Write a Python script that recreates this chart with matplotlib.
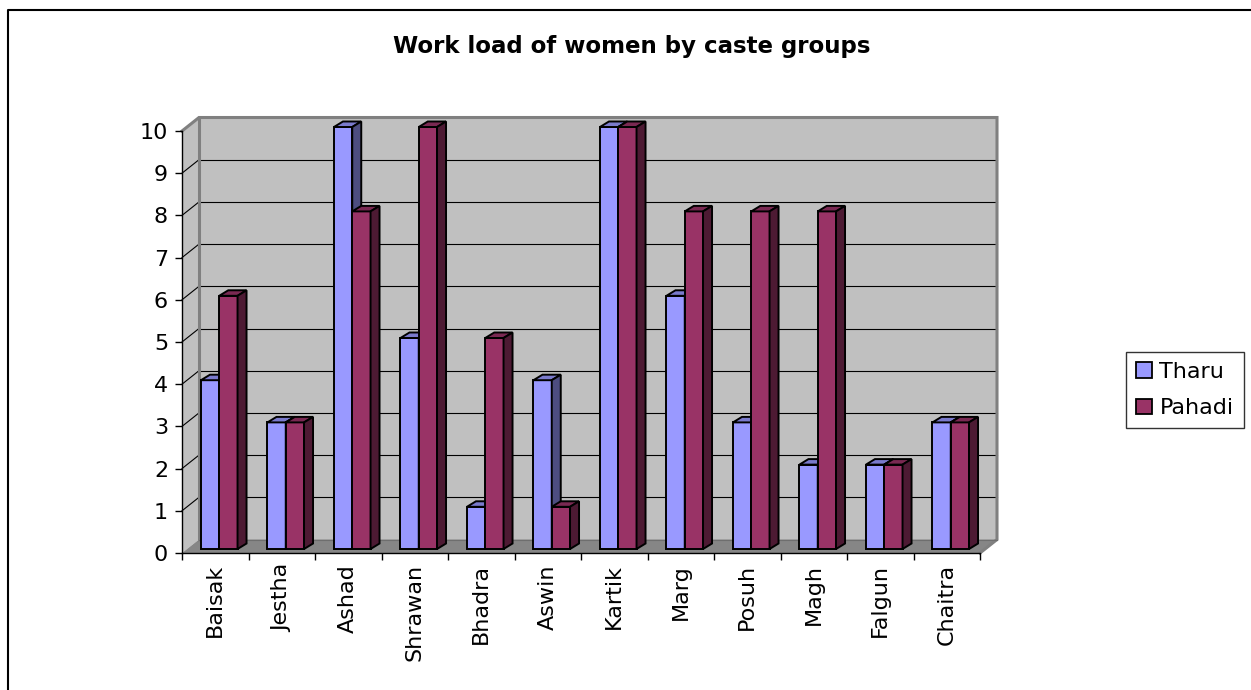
import matplotlib
matplotlib.use("Agg")
import matplotlib.pyplot as plt
from matplotlib.patches import Polygon, Patch
from matplotlib.lines import Line2D

# ---- data ----
months = ["Baisak", "Jestha", "Ashad", "Shrawan", "Bhadra", "Aswin",
          "Kartik", "Marg", "Posuh", "Magh", "Falgun", "Chaitra"]
tharu = [4, 3, 10, 5, 1, 4, 10, 6, 3, 2, 2, 3]
pahadi = [6, 3, 8, 10, 5, 1, 10, 8, 8, 8, 2, 3]
series_names = ["Tharu", "Pahadi"]
y_ticks = list(range(0, 11))
title = "Work load of women by caste groups"

# ---- styles ----
W, H = 1251, 690
front_col = {"Tharu": "#9999FF", "Pahadi": "#993366"}
side_col = {"Tharu": "#4D4D80", "Pahadi": "#4D1A33"}
top_col = {"Tharu": "#7A7ACC", "Pahadi": "#7A2952"}
wall_col = "#C0C0C0"
floor_col = "#868686"
edge_gray = "#808080"

plt.rcParams["font.family"] = ["DejaVu Sans"]

fig = plt.figure(figsize=(W / 100, H / 100), dpi=100)
# front plot area in pixels
px_left, px_right, px_bottom, px_top = 182, 980, 553, 131
ax = fig.add_axes([px_left / W, (H - px_bottom) / H,
                   (px_right - px_left) / W, (px_bottom - px_top) / H])
n = len(months)
ymax = y_ticks[-1]
ax.set_xlim(0, n)
ax.set_ylim(0, ymax)
ax.patch.set_visible(False)

sx = (px_right - px_left) / n      # px per category
sy = (px_bottom - px_top) / ymax   # px per unit

# depth offsets (pixels -> data units)
wdx, wdy = 17 / sx, 13.5 / sy
bfx, bfy = 4 / sx, 4 / sy
bbx, bby = 13 / sx, 9.5 / sy


def poly(pts, fc, ec="none", lw=0, z=1):
    ax.add_patch(Polygon(pts, closed=True, facecolor=fc, edgecolor=ec,
                         linewidth=lw, zorder=z, clip_on=False,
                         joinstyle="miter"))


# back wall
poly([(wdx, wdy), (n + wdx, wdy), (n + wdx, ymax + wdy), (wdx, ymax + wdy)],
     wall_col, z=0.5)
# side wall
poly([(0, 0), (wdx, wdy), (wdx, ymax + wdy), (0, ymax)], wall_col, z=0.5)
# floor
poly([(0, 0), (n, 0), (n + wdx, wdy), (wdx, wdy)], floor_col, z=0.6)

# gridlines
for v in y_ticks[1:-1]:
    ax.plot([wdx, n + wdx], [v + wdy, v + wdy], color="black", lw=0.8,
            zorder=0.7, clip_on=False)
    ax.plot([0, wdx], [v, v + wdy], color="black", lw=0.8, zorder=0.7,
            clip_on=False)
# wall edges (gray)
ax.plot([0, wdx, n + wdx, n + wdx, n], [ymax, ymax + wdy, ymax + wdy, wdy, 0],
        color=edge_gray, lw=2.2, zorder=0.8, clip_on=False,
        solid_joinstyle="miter")
ax.plot([wdx, wdx], [wdy, ymax + wdy], color=edge_gray, lw=2.2, zorder=0.8,
        clip_on=False)
ax.plot([wdx, n + wdx], [wdy, wdy], color="#6E6E6E", lw=0.8, zorder=0.8,
        clip_on=False)

# bars
bw = 0.275
for i in range(n):
    c = i + 0.5
    for j, (name, vals) in enumerate(zip(series_names, [tharu, pahadi])):
        v = vals[i]
        x0 = c - bw + j * bw + bfx
        x1 = x0 + bw
        y0 = bfy
        y1 = v + bfy
        ddx, ddy = bbx - bfx, bby - bfy
        z = 2 + i * 0.01 + j * 0.001
        poly([(x0, y0), (x1, y0), (x1, y1), (x0, y1)], front_col[name],
             "black", 1.4, z)
        poly([(x0, y1), (x1, y1), (x1 + ddx, y1 + ddy), (x0 + ddx, y1 + ddy)],
             top_col[name], "black", 1.4, z)
        poly([(x1, y0), (x1 + ddx, y0 + ddy), (x1 + ddx, y1 + ddy), (x1, y1)],
             side_col[name], "black", 1.4, z)

# axes
for s in ["top", "right"]:
    ax.spines[s].set_visible(False)
ax.spines["left"].set_bounds(0, ymax)
ax.spines["bottom"].set_bounds(0, n)
for s in ["left", "bottom"]:
    ax.spines[s].set_linewidth(1.0)
    ax.spines[s].set_color("black")
    ax.spines[s].set_zorder(5)

ax.set_yticks(y_ticks)
ax.set_yticklabels([str(t) for t in y_ticks])
ax.tick_params(axis="y", length=5, width=1, pad=5, labelsize=16)
ax.set_xticks(range(n + 1))
ax.set_xticklabels([""] * (n + 1))
ax.set_xticks([i + 0.5 for i in range(n)], minor=True)
ax.set_xticklabels(months, minor=True, rotation=90, fontsize=16)
ax.tick_params(axis="x", which="major", length=5, width=1)
ax.tick_params(axis="x", which="minor", length=0, pad=8)

# title
fig.text(631.5 / W, 1 - 46 / H, title, ha="center", va="center",
         fontsize=16.5, fontweight="bold")

# legend
handles = [Patch(facecolor=front_col[s], edgecolor="black", linewidth=1.3)
           for s in series_names]
leg = fig.legend(handles, series_names, loc="center",
                 bbox_to_anchor=(1185 / W, 1 - 390 / H), fontsize=16,
                 frameon=True, fancybox=False, shadow=False,
                 handlelength=0.68, handleheight=0.68, handletextpad=0.35,
                 labelspacing=0.75, borderpad=0.45, borderaxespad=0)
leg.get_frame().set_edgecolor("black")
leg.get_frame().set_linewidth(1.0)

# chart border (left and top visible)
fig.add_artist(Line2D([8 / W, 8 / W, 1.0], [0, 1 - 10 / H, 1 - 10 / H],
                      transform=fig.transFigure, color="black", lw=1.5))

fig.savefig("out.png", dpi=100)
